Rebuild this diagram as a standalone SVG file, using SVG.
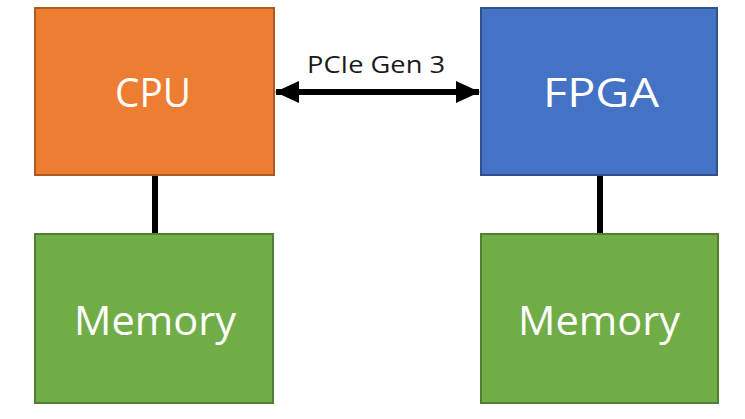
<svg xmlns="http://www.w3.org/2000/svg" width="745" height="419" viewBox="0 0 745 419">
  <style>
    .box { stroke-width: 2; }
    .cpu { fill: #ED7D31; stroke: #AE5A21; }
    .fpga { fill: #4472C4; stroke: #2F528F; }
    .mem { fill: #70AD47; stroke: #507E32; }
    .label { font-family: "Open Sans", "Liberation Sans", sans-serif; fill: #FFFFFF; font-size: 41px; text-anchor: middle; }
    .link { stroke: #000000; stroke-width: 6; fill: none; }
    .caption { font-family: "Open Sans", "Liberation Sans", sans-serif; fill: #1a1a1a; font-size: 24px; text-anchor: middle; }
  </style>
  <defs>
    <marker id="head" viewBox="0 0 24 22" refX="23" refY="11" markerWidth="24" markerHeight="22" markerUnits="userSpaceOnUse" orient="auto-start-reverse">
      <path d="M0,0 L24,11 L0,22 Z" fill="#000000"/>
    </marker>
  </defs>
  <rect width="745" height="419" fill="#FFFFFF"/>

  <g id="connectors">
    <line class="link" x1="155" y1="175" x2="155" y2="234"/>
    <line class="link" x1="600" y1="175" x2="600" y2="234"/>
    <line class="link" x1="276" y1="92" x2="479" y2="92" marker-start="url(#head)" marker-end="url(#head)"/>
    <text class="caption" x="376" y="73" textLength="138" lengthAdjust="spacingAndGlyphs">PCIe Gen 3</text>
  </g>

  <g id="cpu">
    <rect class="box cpu" x="35" y="8" width="239" height="167"/>
    <text class="label" x="153" y="107" textLength="76" lengthAdjust="spacingAndGlyphs">CPU</text>
  </g>

  <g id="fpga">
    <rect class="box fpga" x="481" y="8" width="236" height="167"/>
    <text class="label" x="601" y="107" textLength="116" lengthAdjust="spacingAndGlyphs">FPGA</text>
  </g>

  <g id="cpu-memory">
    <rect class="box mem" x="35" y="234" width="238" height="169"/>
    <text class="label" x="155" y="335" textLength="162" lengthAdjust="spacingAndGlyphs">Memory</text>
  </g>

  <g id="fpga-memory">
    <rect class="box mem" x="481" y="234" width="237" height="169"/>
    <text class="label" x="599" y="335" textLength="162" lengthAdjust="spacingAndGlyphs">Memory</text>
  </g>
</svg>
